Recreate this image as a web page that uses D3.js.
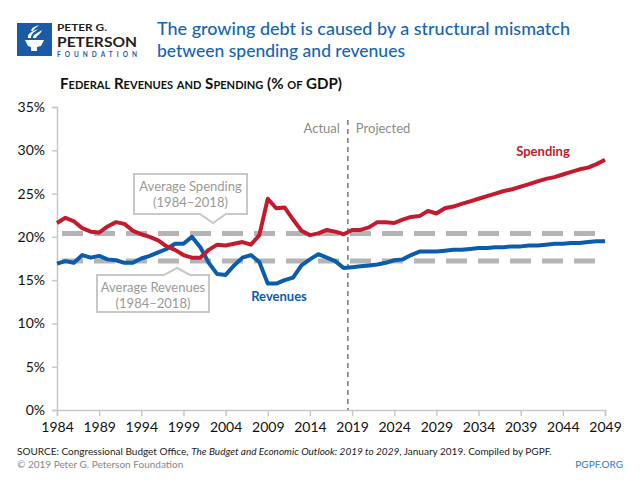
<!DOCTYPE html>
<html><head><meta charset="utf-8">
<script src="https://cdn.jsdelivr.net/npm/d3@7"></script>
<style>body{margin:0;background:#fff}svg{display:block}text{font-family:Lato,"Open Sans",sans-serif}</style>
</head><body><svg id="c" width="640" height="480"></svg>
<script>
const years = d3.range(1984, 2050);
const spending = [21.6,22.2,21.8,21.0,20.6,20.5,21.2,21.7,21.5,20.7,20.3,20.0,19.6,18.9,18.5,17.9,17.6,17.6,18.5,19.1,19.0,19.2,19.4,19.1,20.2,24.4,23.3,23.4,22.0,20.7,20.2,20.4,20.8,20.6,20.3,
  20.8,20.8,21.1,21.7,21.7,21.6,22.0,22.3,22.4,23.0,22.7,23.3,23.5,23.8,24.1,24.4,24.7,25.0,25.3,25.5,25.8,26.1,26.4,26.7,26.9,27.2,27.5,27.8,28.0,28.4,28.9];
const revenues = [16.9,17.2,17.0,17.9,17.6,17.8,17.4,17.3,17.0,17.0,17.5,17.8,18.2,18.6,19.2,19.2,20.0,18.8,17.0,15.7,15.6,16.7,17.6,17.9,17.1,14.6,14.6,15.0,15.3,16.7,17.4,18.0,17.6,17.2,16.4,
  16.5,16.6,16.7,16.8,17.0,17.3,17.4,17.9,18.3,18.3,18.3,18.4,18.5,18.5,18.6,18.7,18.7,18.8,18.8,18.9,18.9,19.0,19.0,19.1,19.2,19.2,19.3,19.3,19.4,19.5,19.5];
const avgSpending = 20.4, avgRevenues = 17.2;
const splitYear = 2018.5;
const xTicks = [1984,1989,1994,1999,2004,2009,2014,2019,2024,2029,2034,2039,2044,2049];
const yTicks = [0,5,10,15,20,25,30,35];

const svg = d3.select("#c");
const x = d3.scaleLinear().domain([1984, 2049]).range([57, 605]);
const y = d3.scaleLinear().domain([0, 35]).range([410, 107]);
const BLUE = "#0b5cad", RED = "#c41a2e", GRAY = "#8c8c8c";

// Logo
const logo = svg.append("g");
logo.append("rect").attr("x",17).attr("y",23).attr("width",35).attr("height",33).attr("fill","#1a5ba6");
logo.append("path").attr("d","M25 40 L44 40 L41 46 L37 47 L37 51 L31 51 L31 47 L28 46 Z").attr("fill","#fff");
logo.append("path").attr("d","M28 38 C27 33 33 31 38 29 C35 32 31 33 31 38 Z").attr("fill","#fff");
logo.append("path").attr("d","M33 38 C33 34 38 33 42 30 C41 34 37 35 36 38 Z").attr("fill","#fff");
logo.append("path").attr("d","M31 31 C32 27 36 26 40 25 C37 27 34 28 33 31 Z").attr("fill","#fff");
logo.append("text").attr("x",57).attr("y",31).attr("font-size",10).attr("font-weight",700).attr("fill","#222")
  .attr("textLength",50).attr("lengthAdjust","spacingAndGlyphs").text("PETER G.");
logo.append("text").attr("x",57).attr("y",47).attr("font-size",14).attr("font-weight",700).attr("fill","#222")
  .attr("textLength",80).attr("lengthAdjust","spacingAndGlyphs").text("PETERSON");
logo.append("text").attr("x",57).attr("y",56.5).attr("font-size",6.5).attr("font-weight",700).attr("fill","#1a5ba6")
  .attr("textLength",80).attr("lengthAdjust","spacing").text("FOUNDATION");

// Title
svg.append("text").attr("x",157).attr("y",35).attr("font-size",18).attr("font-weight",500).attr("fill","#1565b3")
  .attr("font-family","Roboto").attr("textLength",413).attr("lengthAdjust","spacingAndGlyphs")
  .text("The growing debt is caused by a structural mismatch");
svg.append("text").attr("x",157).attr("y",57).attr("font-size",18).attr("font-weight",500).attr("fill","#1565b3")
  .attr("font-family","Roboto").attr("textLength",248).attr("lengthAdjust","spacingAndGlyphs")
  .text("between spending and revenues");

// Subtitle
svg.append("text").attr("x",60).attr("y",89).attr("font-size",15).attr("font-weight",700).attr("fill","#111")
  .style("font-variant","small-caps").attr("textLength",282).attr("lengthAdjust","spacingAndGlyphs")
  .text("Federal Revenues and Spending (% of GDP)");

// Axes
const ya = svg.append("g").attr("transform","translate(57,0)")
  .call(d3.axisLeft(y).tickValues(yTicks).tickSize(5).tickPadding(7).tickFormat(d => d + "%"));
ya.select(".domain").attr("stroke","#c8c8c8").attr("stroke-width",1.5);
ya.selectAll(".tick line").attr("stroke","#c8c8c8").attr("stroke-width",1.5);
ya.selectAll("text").attr("font-size",14).attr("fill","#111").attr("font-family","Lato");

const xa = svg.append("g").attr("transform","translate(0,410)")
  .call(d3.axisBottom(x).tickValues(xTicks).tickSize(6).tickPadding(6).tickFormat(d3.format("d")));
xa.select(".domain").attr("stroke","#c8c8c8").attr("stroke-width",1.5);
xa.selectAll(".tick line").attr("stroke","#c8c8c8").attr("stroke-width",1.5);
xa.selectAll("text").attr("font-size",14).attr("fill","#111").attr("font-family","Lato");

// Average dashed lines
[avgSpending, avgRevenues].forEach(v => {
  svg.append("line").attr("x1",x(1984)+5).attr("x2",x(2049)).attr("y1",y(v)).attr("y2",y(v))
    .attr("stroke","#b4b4b4").attr("stroke-width",5).attr("stroke-dasharray","21 11");
});

// Actual / projected divider
svg.append("line").attr("x1",x(splitYear)).attr("x2",x(splitYear)).attr("y1",120).attr("y2",410)
  .attr("stroke","#777").attr("stroke-width",1.5).attr("stroke-dasharray","5 4");
svg.append("text").attr("x",x(splitYear)-8).attr("y",133).attr("text-anchor","end").attr("font-size",13).attr("fill",GRAY).text("Actual");
svg.append("text").attr("x",x(splitYear)+8).attr("y",133).attr("font-size",13).attr("fill",GRAY).text("Projected");

// Lines
const line = d3.line().x((d,i) => x(years[i])).y(d => y(d)).curve(d3.curveLinear);
svg.append("path").datum(revenues).attr("d",line).attr("fill","none").attr("stroke",BLUE).attr("stroke-width",4).attr("stroke-linejoin","round");
svg.append("path").datum(spending).attr("d",line).attr("fill","none").attr("stroke",RED).attr("stroke-width",4).attr("stroke-linejoin","round");

// Series labels
svg.append("text").attr("x",543).attr("y",156).attr("text-anchor","middle").attr("font-size",13).attr("font-weight",700).attr("fill",RED).text("Spending");
svg.append("text").attr("x",279).attr("y",301).attr("text-anchor","middle").attr("font-size",13).attr("font-weight",700).attr("fill",BLUE).text("Revenues");

// Callouts
function callout(bx, by, bw, bh, px, pointerTop, lines) {
  let d;
  if (pointerTop) {
    d = `M${bx},${by} L${px-13},${by} L${px},${by-7} L${px+13},${by} L${bx+bw},${by} L${bx+bw},${by+bh} L${bx},${by+bh} Z`;
  } else {
    d = `M${bx},${by} L${bx+bw},${by} L${bx+bw},${by+bh} L${px+13},${by+bh} L${px},${by+bh+9} L${px-13},${by+bh} L${bx},${by+bh} Z`;
  }
  svg.append("path").attr("d",d).attr("fill","#fff").attr("stroke","#c8c8c8").attr("stroke-width",2);
  lines.forEach((t,i) => svg.append("text").attr("x",bx+bw/2).attr("y",by+17+i*16).attr("text-anchor","middle")
    .attr("font-size",13).attr("fill","#9a9a9a").text(t));
}
callout(134, 174, 113, 40, 213, false, ["Average Spending", "(1984–2018)"]);
callout(97, 275, 112, 37, 177, true, ["Average Revenues", "(1984–2018)"]);

// Footer
const src = svg.append("text").attr("x",17).attr("y",455).attr("font-size",10).attr("fill","#222");
src.append("tspan").text("SOURCE: Congressional Budget Office, ");
src.append("tspan").attr("font-style","italic").text("The Budget and Economic Outlook: 2019 to 2029");
src.append("tspan").text(", January 2019. Compiled by PGPF.");
svg.append("text").attr("x",17).attr("y",468).attr("font-size",10).attr("fill","#888").text("© 2019 Peter G. Peterson Foundation");
svg.append("text").attr("x",623).attr("y",468).attr("text-anchor","end").attr("font-size",10).attr("fill","#2a7bc4").text("PGPF.ORG");
</script></body></html>
